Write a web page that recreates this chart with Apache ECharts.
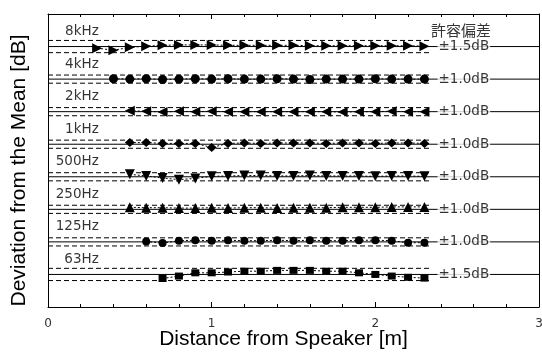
<!DOCTYPE html>
<html><head><meta charset="utf-8">
<script src="https://cdn.jsdelivr.net/npm/echarts@6/dist/echarts.min.js"></script>
<style>html,body{margin:0;padding:0;background:#fff}#c{width:542px;height:353px}</style>
</head><body><div id="c"></div>
<script>
// measurement positions [m]
const distances = [0.3,0.4,0.5,0.6,0.7,0.8,0.9,1.0,1.1,1.2,1.3,1.4,1.5,1.6,1.7,1.8,1.9,2.0,2.1,2.2,2.3];
const bands = ['8kHz','4kHz','2kHz','1kHz','500Hz','250Hz','125Hz','63Hz'];
const tolerances = [1.5,1.0,1.0,1.0,1.0,1.0,1.0,1.5];
const tolLabels = ['±1.5dB','±1.0dB','±1.0dB','±1.0dB','±1.0dB','±1.0dB','±1.0dB','±1.5dB'];
const tolTitle = '許容偏差';
// deviation from the mean [dB]
const dev8k   = [-0.4,-0.9,-0.2,0.1,0.3,0.4,0.4,0.4,0.3,0.3,0.3,0.3,0.3,0.2,0.2,0.2,0.2,0.2,0.2,0.2,0.1];
const dev4k   = [null,0.1,0.0,0.1,-0.1,0.0,0.1,0.0,0.1,0.0,0.0,0.1,0.0,-0.1,0.0,0.0,0.0,0.1,0.0,0.0,0.0];
const dev2k   = [null,null,0.2,0.1,-0.1,0.1,0.0,0.1,0.0,0.0,0.0,0.0,0.0,0.0,0.0,-0.1,0.0,0.0,0.1,0.0,0.0];
const dev1k   = [null,null,0.4,0.4,0.2,0.2,0.2,-0.8,0.2,0.3,0.2,0.3,0.3,0.3,0.2,0.3,0.3,0.2,0.3,0.3,0.2];
const dev500  = [null,null,0.6,0.2,-0.3,-0.7,-0.4,0.1,0.2,0.3,0.3,0.2,0.2,0.3,0.2,0.2,0.2,0.1,0.2,0.2,0.1];
const dev250  = [null,null,0.5,0.4,0.4,0.3,0.3,0.4,0.3,0.4,0.4,0.3,0.4,0.4,0.4,0.5,0.5,0.5,0.6,0.6,0.6];
const dev125  = [null,null,null,0.1,-0.3,0.3,0.4,0.3,0.4,0.3,0.3,0.4,0.3,0.4,0.3,0.3,0.4,0.4,0.3,-0.2,-0.2];
const dev63   = [null,null,null,null,-1.0,-0.4,0.4,0.4,0.6,0.8,0.8,1.0,1.0,1.0,0.8,0.8,0.4,0.0,-0.4,-0.7,-0.9];
const deviations = [dev8k,dev4k,dev2k,dev1k,dev500,dev250,dev125,dev63];
const xTicks = ['0','1','2','3'];

const SPACING = 8;       // vertical offset between stacked bands (dB)
const symbols = [
  {s:'triangle', r:-90, z:10}, {s:'circle', r:0, z:9}, {s:'triangle', r:90, z:10}, {s:'diamond', r:0, z:[10,9]},
  {s:'triangle', r:180, z:10}, {s:'triangle', r:0, z:10}, {s:'circle', r:0, z:8}, {s:'rect', r:0, z:[8,7]}
];
const FONT = 'DejaVu Sans';
const series = [];
bands.forEach((b, i) => {
  const c = (bands.length - 1 - i) * SPACING;
  const t = tolerances[i];
  series.push({type:'line', data:[[0,c],[3,c]], symbol:'none', silent:true,
    lineStyle:{color:'#000', width:1}, z:1});
  [c + t, c - t].forEach(v => series.push({type:'line', data:[[0,v],[2.33,v]], symbol:'none', silent:true,
    lineStyle:{color:'#000', width:1, type:[5,3]}, z:1}));
  const pts = [];
  distances.forEach((d, k) => { if (deviations[i][k] !== null) pts.push([d, c + deviations[i][k]]); });
  series.push({type:'line', data:pts, symbol:symbols[i].s, symbolRotate:symbols[i].r, symbolSize:symbols[i].z,
    itemStyle:{color:'#000'}, lineStyle:{color:'#000', width:1, type:[2,2]}, z:3});
  series.push({type:'scatter', data:[[0.31, c + 3.7]], symbolSize:0, silent:true, z:4,
    label:{show:true, position:'left', distance:0, formatter:b, color:'#000', fontFamily:FONT, fontSize:13.5}});
  series.push({type:'scatter', data:[[2.38, c]], symbolSize:0, silent:true, z:5,
    label:{show:true, position:'right', distance:0, formatter:tolLabels[i], color:'#000', fontFamily:FONT, fontSize:13.5,
      backgroundColor:'#fff', padding:[1,1,1,1]}});
});
series.push({type:'scatter', data:[[2.34, (bands.length - 1) * SPACING + 4]], symbolSize:0, silent:true, z:5,
  label:{show:true, position:'right', distance:0, formatter:tolTitle, color:'#000',
    fontFamily:'Noto Sans CJK JP', fontSize:15}});

const axisCommon = {
  type:'value', min:0, max:3, interval:1,
  axisLine:{onZero:false, lineStyle:{color:'#000', width:1}},
  axisTick:{inside:true, length:5, lineStyle:{color:'#000'}},
  minorTick:{show:true, splitNumber:5, length:3, lineStyle:{color:'#000'}},
  splitLine:{show:false}
};
const chart = echarts.init(document.getElementById('c'), null, {renderer:'canvas'});
chart.setOption({
  animation:false,
  grid:{left:48, right:3, top:14, bottom:46, containLabel:false, outerBoundsMode:'none'},
  xAxis:[Object.assign({}, axisCommon, {
    position:'bottom',
    name:'Distance from Speaker [m]', nameLocation:'middle', nameGap:22, nameMoveOverlap:false,
    nameTextStyle:{fontFamily:'Liberation Sans', fontSize:21, color:'#000', padding:[0,20,0,0]},
    axisLabel:{margin:11, color:'#333', fontFamily:FONT, fontSize:12, formatter:(v)=>xTicks[Math.round(v)]}
  }), Object.assign({}, axisCommon, {
    position:'top', axisLabel:{show:false}
  })],
  yAxis:[{
    type:'value', min:-8, max:64, position:'left',
    name:'Deviation from the Mean [dB]', nameLocation:'middle', nameGap:18, nameMoveOverlap:false,
    nameTextStyle:{fontFamily:'Liberation Sans', fontSize:21, color:'#000', padding:[0,20,0,0]},
    axisLine:{show:true, onZero:false, lineStyle:{color:'#000', width:1}},
    axisTick:{show:false}, axisLabel:{show:false}, splitLine:{show:false}
  },{
    type:'value', min:-8, max:64, position:'right',
    axisLine:{show:true, onZero:false, lineStyle:{color:'#000', width:1}},
    axisTick:{show:false}, axisLabel:{show:false}, splitLine:{show:false}
  }],
  series: series
});
</script></body></html>
